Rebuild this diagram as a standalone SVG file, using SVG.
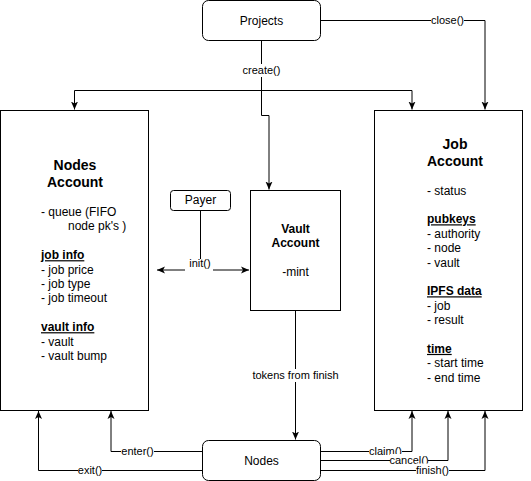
<svg xmlns="http://www.w3.org/2000/svg" width="531" height="481" viewBox="0 0 531 481">
<style>
.box{fill:#fff;stroke:#000;stroke-width:1}
.edge{fill:none;stroke:#000;stroke-width:1}
text{font-family:"Liberation Sans",Arial,Helvetica,sans-serif;fill:#000}
.t12{font-size:12px}
.mid{text-anchor:middle}
.lbl{font-size:11px;text-anchor:middle}
.title{font-size:14px;font-weight:bold;text-anchor:middle}
.vt{font-size:12px;font-weight:bold;text-anchor:middle}
.u{font-weight:bold;text-decoration:underline}
.bg{fill:#fff}
</style>
<defs>
<marker id="arr" markerUnits="userSpaceOnUse" viewBox="0 0 8 8" refX="8" refY="4" markerWidth="8" markerHeight="8" orient="auto-start-reverse">
<path d="M0,0.5 L8,4 L0,7.5 L2,4 z" fill="#000"/>
</marker>
</defs>
<g id="connectors">
<path class="edge" d="M261.5,40.5 V115.5 H269 V189.5" marker-end="url(#arr)"/>
<path class="edge" d="M261.5,90.5 H74.5 V109.5" marker-end="url(#arr)"/>
<path class="edge" d="M261.5,90.5 H412 V109.5" marker-end="url(#arr)"/>
<path class="edge" d="M320.5,20.5 H485 V109.5" marker-end="url(#arr)"/>
<path class="edge" d="M200.5,210.5 V270"/>
<path class="edge" d="M157,270 H249" marker-start="url(#arr)" marker-end="url(#arr)"/>
<path class="edge" d="M295.5,310.5 V439.5" marker-end="url(#arr)"/>
<path class="edge" d="M202.5,451.5 H111 V411" marker-end="url(#arr)"/>
<path class="edge" d="M202.5,470.5 H38.5 V411" marker-end="url(#arr)"/>
<path class="edge" d="M320.5,451.5 H412 V411" marker-end="url(#arr)"/>
<path class="edge" d="M320.5,460.5 H448 V411" marker-end="url(#arr)"/>
<path class="edge" d="M320.5,470.5 H485 V411" marker-end="url(#arr)"/>
<g id="lbl-create"><rect class="bg" x="242" y="64" width="39" height="13"/><text class="lbl" x="261.5" y="74">create()</text></g>
<g id="lbl-close"><rect class="bg" x="431" y="14" width="33" height="13"/><text class="lbl" x="447.5" y="24">close()</text></g>
<g id="lbl-init"><rect class="bg" x="185" y="259" width="28" height="13"/><text class="lbl" x="200" y="267">init()</text></g>
<g id="lbl-tokens"><rect class="bg" x="252" y="369" width="87" height="13"/><text class="lbl" x="295.5" y="379">tokens from finish</text></g>
<g id="lbl-enter"><rect class="bg" x="121" y="445" width="33" height="13"/><text class="lbl" x="137.5" y="455">enter()</text></g>
<g id="lbl-exit"><rect class="bg" x="78" y="464" width="24" height="13"/><text class="lbl" x="90" y="474">exit()</text></g>
<g id="lbl-claim"><rect class="bg" x="369" y="445" width="33" height="13"/><text class="lbl" x="385.5" y="455">claim()</text></g>
<g id="lbl-cancel"><rect class="bg" x="390" y="454" width="38" height="13"/><text class="lbl" x="409" y="464">cancel()</text></g>
<g id="lbl-finish"><rect class="bg" x="416" y="463.5" width="33" height="13"/><text class="lbl" x="432.5" y="473.5">finish()</text></g>
</g>
<g id="projects">
<rect class="box" x="202.5" y="0.5" width="118" height="40" rx="6"/>
<text class="t12 mid" x="261.5" y="24.5">Projects</text>
</g>
<g id="nodes-account">
<rect class="box" x="0.5" y="110.5" width="148" height="300"/>
<text class="title" x="75" y="170">Nodes</text>
<text class="title" x="75" y="187">Account</text>
<text class="t12">
<tspan x="41" y="216">- queue (FIFO</tspan>
<tspan x="68" y="230.4">node pk's )</tspan>
<tspan x="41" y="259.2" class="u">job info</tspan>
<tspan x="41" y="273.6">- job price</tspan>
<tspan x="41" y="288">- job type</tspan>
<tspan x="41" y="302.4">- job timeout</tspan>
<tspan x="41" y="331.2" class="u">vault info</tspan>
<tspan x="41" y="345.6">- vault</tspan>
<tspan x="41" y="360">- vault bump</tspan>
</text>
</g>
<g id="payer">
<rect class="box" x="170.5" y="190.5" width="60" height="20" rx="3"/>
<text class="t12 mid" x="200.5" y="204">Payer</text>
</g>
<g id="vault-account">
<rect class="box" x="250.5" y="190.5" width="90" height="120"/>
<text class="vt" x="295.5" y="233">Vault</text>
<text class="vt" x="295.5" y="247.4">Account</text>
<text class="t12 mid" x="295.5" y="276">-mint</text>
</g>
<g id="job-account">
<rect class="box" x="374.5" y="110.5" width="148" height="300"/>
<text class="title" x="455" y="148.5">Job</text>
<text class="title" x="455" y="165.8">Account</text>
<text class="t12">
<tspan x="427" y="194.5">- status</tspan>
<tspan x="427" y="223.3" class="u">pubkeys</tspan>
<tspan x="427" y="237.7">- authority</tspan>
<tspan x="427" y="252.1">- node</tspan>
<tspan x="427" y="266.5">- vault</tspan>
<tspan x="427" y="295.3" class="u">IPFS data</tspan>
<tspan x="427" y="309.7">- job</tspan>
<tspan x="427" y="324.1">- result</tspan>
<tspan x="427" y="352.9" class="u">time</tspan>
<tspan x="427" y="367.3">- start time</tspan>
<tspan x="427" y="381.7">- end time</tspan>
</text>
</g>
<g id="nodes">
<rect class="box" x="202.5" y="440.5" width="118" height="40" rx="6"/>
<text class="t12 mid" x="261.5" y="464.5">Nodes</text>
</g>
</svg>
